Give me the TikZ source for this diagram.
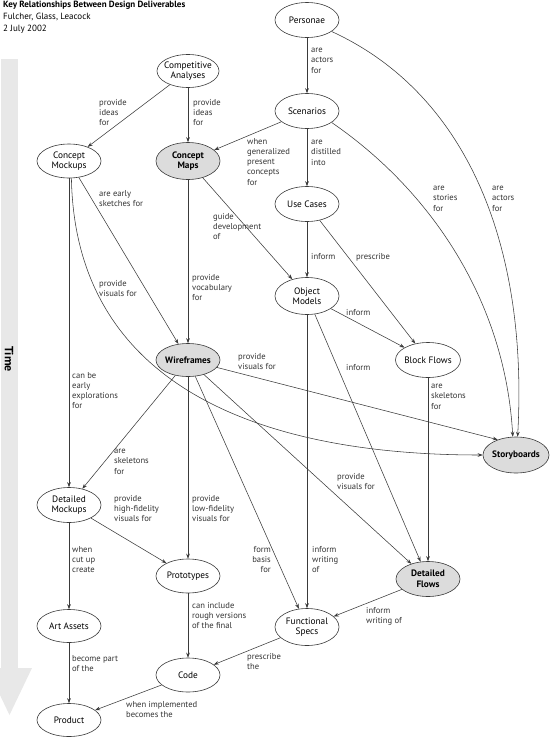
\documentclass[tikz,border=0pt]{standalone}
\usepackage{fontspec}
\setmainfont{PT Sans}
\usetikzlibrary{shapes.geometric,arrows.meta}
\definecolor{linec}{HTML}{3A3A3A}
\definecolor{labc}{HTML}{333333}
\definecolor{hlfill}{HTML}{DCDCDC}
\definecolor{timec}{HTML}{E8E8E8}
\begin{document}
\begin{tikzpicture}[x=1pt,y=-1pt,
  nd/.style={ellipse,draw=linec,line width=0.6pt,minimum width=64pt,minimum height=35pt,
    inner xsep=-5pt,inner ysep=-2pt,align=center,font=\fontsize{9.3}{10.5}\selectfont,text=black,fill=white},
  hl/.style={nd,fill=hlfill,font=\fontsize{9.3}{10.5}\selectfont\bfseries},
  lb/.style={anchor=north west,align=left,inner sep=0pt,font=\fontsize{8.6}{10.2}\selectfont,text=labc},
  lbr/.style={lb,anchor=north east,align=right},
  ar/.style={draw=linec,line width=0.55pt,-{Stealth[length=5pt,width=3.6pt]}}]
\useasboundingbox (0,0) rectangle (550,742);
% time arrow
\fill[timec] (1,59) rectangle (18,669);
\fill[timec] (-13,668) -- (32,668) -- (9.5,715) -- cycle;
\node[rotate=-90,font=\fontsize{12}{12}\selectfont\bfseries,text=black] (time) at (9,359) {Time};
% title
\node[anchor=north west,align=left,inner sep=0pt,font=\fontsize{9}{12}\selectfont] (title) at (3,1)
  {\textbf{Key Relationships Between Design Deliverables}\\Fulcher, Glass, Leacock\\2 July 2002};
% nodes
\node[nd] (per) at (307,20) {Personae};
\node[nd,minimum width=62pt,minimum height=33pt] (ca) at (188,71) {Competitive\\Analyses};
\node[nd] (sce) at (307,111) {Scenarios};
\node[nd,minimum height=34pt] (cmo) at (69,161) {Concept\\Mockups};
\node[hl,minimum height=37pt] (cma) at (188,161) {Concept\\Maps};
\node[nd] (uc) at (307,204) {Use Cases};
\node[nd,minimum height=37pt] (om) at (307,296) {Object\\Models};
\node[nd,minimum width=65pt] (bf) at (428,360) {Block Flows};
\node[hl,minimum height=33pt] (wf) at (188,360) {Wireframes};
\node[hl,minimum width=66pt,minimum height=36pt] (sb) at (516,455) {Storyboards};
\node[nd] (dm) at (69,505) {Detailed\\Mockups};
\node[nd,minimum height=34pt] (pro) at (188,576) {Prototypes};
\node[hl] (df) at (428,579) {Detailed\\Flows};
\node[nd,minimum height=37pt] (fs) at (307,627) {Functional\\Specs};
\node[nd,minimum height=33pt] (aa) at (69,626) {Art Assets};
\node[nd,minimum height=34pt] (code) at (188,675) {Code};
\node[nd,minimum height=33pt] (prod) at (69,720) {Product};
% connectors
\draw[ar] (per) -- (sce);
\draw[ar] (sce) -- (uc);
\draw[ar] (uc) -- (om);
\draw[ar] (om) -- (fs);
\draw[ar] (ca) -- (cma);
\draw[ar] (cma) -- (wf);
\draw[ar] (wf) -- (pro);
\draw[ar] (pro) -- (code);
\draw[ar] (cmo) -- (dm);
\draw[ar] (dm) -- (aa);
\draw[ar] (aa) -- (prod);
\draw[ar] (bf) -- (df);
\draw[ar] (ca) -- (cmo);
\draw[ar] (sce) -- (cma);
\draw[ar] (cma) -- (om);
\draw[ar] (cmo) -- (wf);
\draw[ar] (uc) -- (bf);
\draw[ar] (om) -- (bf);
\draw[ar] (om) -- (df);
\draw[ar] (wf) -- (sb.140);
\draw[ar] (wf) -- (dm);
\draw[ar] (wf) -- (fs);
\draw[ar] (wf) -- (df);
\draw[ar] (dm) -- (pro);
\draw[ar] (df) -- (fs);
\draw[ar] (fs) -- (code);
\draw[ar] (code) -- (prod);
\draw[ar] (per.-25) .. controls (470,95) and (528,250) .. (sb.85);
\draw[ar] (sce.-25) .. controls (430,190) and (505,300) .. (sb.100);
\draw[ar] (cmo.-82) .. controls (75,380) and (250,455) .. (sb.west);
% labels
\node[lb] (l1) at (311,48) {are\\actors\\for};
\node[lb] (l2) at (492,186) {are\\actors\\for};
\node[lb] (l3) at (433,186) {are\\stories\\for};
\node[lb] (l4) at (311,140) {are\\distilled\\into};
\node[lb] (l5) at (247,138) {when\\generalized\\present\\concepts\\for};
\node[lb] (l6) at (99,99) {provide\\ideas\\for};
\node[lb] (l7) at (193,99) {provide\\ideas\\for};
\node[lb] (l8) at (99,190) {are early\\sketches for};
\node[lb] (l9) at (213,213) {guide\\development\\of};
\node[lb] (l10) at (192,274) {provide\\vocabulary\\for};
\node[lb] (l11) at (99,280) {provide\\visuals for};
\node[lb] (l12) at (72,372) {can be\\early\\explorations\\for};
\node[lb] (l13) at (311,253) {inform};
\node[lb] (l14) at (356,253) {prescribe};
\node[lb] (l15) at (346,309) {inform};
\node[lb] (l16) at (346,364) {inform};
\node[lb] (l17) at (431,384) {are\\skeletons\\for};
\node[lb] (l18) at (238,353) {provide\\visuals for};
\node[lb] (l19) at (337,473) {provide\\visuals for};
\node[lb] (l20) at (312,546) {inform\\writing\\of};
\node[lb] (l21) at (114,449) {are\\skeletons\\for};
\node[lb] (l22) at (114,495) {provide\\high-fidelity\\visuals for};
\node[lb] (l23) at (192,495) {provide\\low-fidelity\\visuals for};
\node[lbr] (l24) at (271,546) {form\\basis\\for};
\node[lb] (l25) at (72,546) {when\\cut up\\create};
\node[lb] (l26) at (192,602) {can include\\rough versions\\of the final};
\node[lb] (l27) at (366,607) {inform\\writing of};
\node[lb] (l28) at (247,653) {prescribe\\the};
\node[lb] (l29) at (72,655) {become part\\of the};
\node[lb] (l30) at (126,701) {when implemented\\becomes the};
\end{tikzpicture}
\end{document}
